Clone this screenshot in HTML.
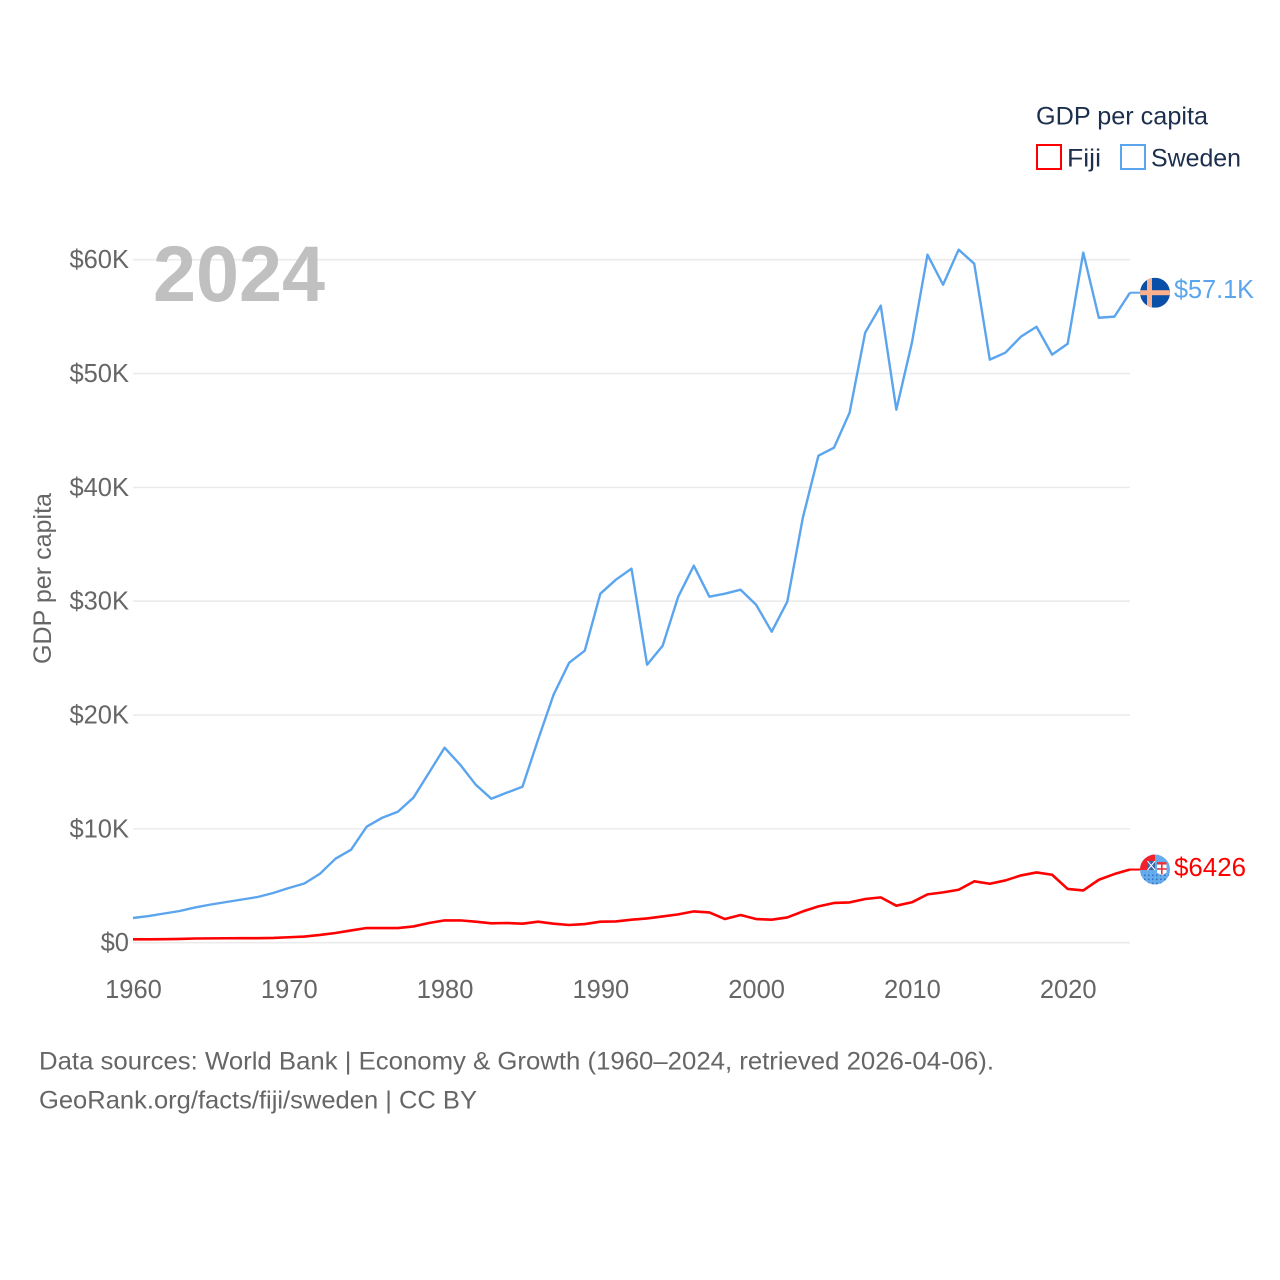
<!DOCTYPE html>
<html lang="en">
<head>
<meta charset="utf-8">
<title>GDP per capita: Fiji and Sweden</title>
<style>
html,body{margin:0;padding:0;background:#fff;}
svg{display:block;}
text{font-family:"Liberation Sans",sans-serif;}
</style>
</head>
<body>
<svg id="chart" xmlns="http://www.w3.org/2000/svg" width="1280" height="1280" viewBox="0 0 1280 1280">
  <defs>
    <clipPath id="clip-se"><circle cx="0" cy="0" r="15"></circle></clipPath>
    <clipPath id="clip-fj"><circle cx="0" cy="0" r="15"></circle></clipPath>
    <pattern id="fj-dots" width="4" height="4" patternUnits="userSpaceOnUse">
      <rect x="1" y="1" width="1.6" height="1.6" fill="#2f74c4"></rect>
    </pattern>
  </defs>
  <rect x="0" y="0" width="1280" height="1280" fill="#ffffff"></rect>
  <g id="grid"></g>
  <g id="yticks"></g>
  <g id="xticks"></g>
  <text transform="translate(51,578.5) rotate(-90)" text-anchor="middle" font-size="25" fill="#666666" textLength="171" lengthAdjust="spacingAndGlyphs">GDP per capita</text>
  <text x="153" y="301" font-size="79" font-weight="bold" fill="#bdbdbd" fill-opacity="0.95" textLength="172" lengthAdjust="spacingAndGlyphs">2024</text>
  <g id="series"></g>
  <g id="flag-se">
    <g clip-path="url(#clip-se)">
      <rect x="-15" y="-15" width="30" height="30" fill="#0a4fa8"></rect>
      <rect x="-8" y="-15" width="5" height="30" fill="#fbb18c"></rect>
      <rect x="-15" y="-2.5" width="30" height="5" fill="#fbb18c"></rect>
    </g>
  </g>
  <g id="flag-fj">
    <g clip-path="url(#clip-fj)">
      <rect x="-15" y="-15" width="30" height="30" fill="#66acec"></rect>
      <rect x="-15" y="2.5" width="30" height="13" fill="url(#fj-dots)"></rect>
      <rect x="-15" y="-15" width="15" height="15.5" fill="#f2222a"></rect>
      <rect x="-7.5" y="-8.5" width="7.5" height="9" fill="#3a67ad"></rect>
      <path d="M-7.5,-8.5 L0,0.5 M0,-8.5 L-7.5,0.5" stroke="#ffffff" stroke-width="1.1" fill="none"></path>
      <rect x="2" y="-7.5" width="9.5" height="11" fill="#ffffff"></rect>
      <path d="M2,3 L11.5,3 L6.75,6 Z" fill="#ffffff"></path>
      <rect x="2" y="-7.5" width="9.5" height="2.5" fill="#e8323a"></rect>
      <rect x="6" y="-5" width="1.6" height="10" fill="#e8323a"></rect>
      <rect x="2" y="-1.4" width="9.5" height="1.6" fill="#e8323a"></rect>
    </g>
  </g>
  <g id="endlabels"></g>
  <g>
    <text x="1036" y="124.5" font-size="25" fill="#1c2f4d" textLength="172" lengthAdjust="spacingAndGlyphs">GDP per capita</text>
    <g>
      <rect x="1037" y="145" width="24" height="24" fill="#ffffff" stroke="#ff0000" stroke-width="2"></rect>
      <text x="1067" y="166.5" font-size="25" fill="#1c2f4d" textLength="34" lengthAdjust="spacingAndGlyphs">Fiji</text>
    </g>
    <g>
      <rect x="1121" y="145" width="24" height="24" fill="#ffffff" stroke="#5ba5ee" stroke-width="2"></rect>
      <text x="1151" y="166.5" font-size="25" fill="#1c2f4d" textLength="90" lengthAdjust="spacingAndGlyphs">Sweden</text>
    </g>
  </g>
  <text x="39" y="1069.5" font-size="25" fill="#666666" textLength="955" lengthAdjust="spacingAndGlyphs">Data sources: World Bank | Economy &amp; Growth (1960–2024, retrieved 2026-04-06).</text>
  <text x="39" y="1108.5" font-size="25" fill="#666666" textLength="438" lengthAdjust="spacingAndGlyphs">GeoRank.org/facts/fiji/sweden | CC BY</text>
</svg>
<script>
const years = [1960,1961,1962,1963,1964,1965,1966,1967,1968,1969,1970,1971,1972,1973,1974,1975,1976,1977,1978,1979,1980,1981,1982,1983,1984,1985,1986,1987,1988,1989,1990,1991,1992,1993,1994,1995,1996,1997,1998,1999,2000,2001,2002,2003,2004,2005,2006,2007,2008,2009,2010,2011,2012,2013,2014,2015,2016,2017,2018,2019,2020,2021,2022,2023,2024];
const swedenValues = [2170,2345,2565,2785,3100,3356,3575,3795,4015,4366,4805,5200,6060,7380,8170,10190,10980,11500,12740,14930,17130,15640,13880,12650,13180,13700,17830,21790,24600,25650,30660,31890,32860,24420,26090,30400,33120,30400,30660,31010,29690,27320,29960,37340,42780,43490,46560,53590,55960,46820,52710,60440,57800,60880,59650,51220,51830,53240,54110,51660,52620,60620,54900,55000,57100];
const fijiValues = [300,300,310,330,370,380,390,400,400,420,480,540,680,850,1080,1290,1290,1290,1430,1730,1960,1960,1845,1700,1730,1670,1845,1670,1555,1640,1845,1870,2020,2135,2310,2490,2750,2660,2080,2430,2080,2020,2220,2750,3190,3490,3540,3840,3980,3250,3550,4245,4420,4650,5390,5180,5470,5910,6170,5970,4720,4590,5530,6030,6426];
const yTickValues = [0,10000,20000,30000,40000,50000,60000];
const yTickLabels = ["$0","$10K","$20K","$30K","$40K","$50K","$60K"];
const xTickValues = [1960,1970,1980,1990,2000,2010,2020];
const xTickLabels = ["1960","1970","1980","1990","2000","2010","2020"];
const endLabelSweden = "$57.1K";
const endLabelFiji = "$6426";

const SVG_NS = "http://www.w3.org/2000/svg";
const plotLeft = 133, plotRight = 1130, plotBottom = 942.7, plotTop = 259.7;
function xScale(year){ return plotLeft + (year - 1960) * (plotRight - plotLeft) / (2024 - 1960); }
function yScale(v){ return plotBottom - v * (plotBottom - plotTop) / 60000; }
function node(tag, parentId, props){
  const el = document.createElementNS(SVG_NS, tag);
  for (const k in props) el.setAttribute(k, props[k]);
  document.getElementById(parentId).appendChild(el);
  return el;
}

yTickValues.forEach(function(v, i){
  const line = node("line", "grid", {x1: plotLeft, x2: plotRight, y1: yScale(v), y2: yScale(v), stroke: "#ebebeb", "stroke-width": 1.6});
  
  
  const label = node("text", "yticks", {x: 129, y: yScale(v) + 8.5, "text-anchor": "end", "font-size": 25.5, fill: "#666666"});
  
  
  label.textContent = yTickLabels[i];
});

xTickValues.forEach(function(yr, i){
  const label = node("text", "xticks", {x: xScale(yr) + 0.5, y: 998, "text-anchor": "middle", "font-size": 25.5, fill: "#666666"});
  
  
  label.textContent = xTickLabels[i];
});

function linePath(vals){
  return vals.map(function(v, i){ return (i ? "L" : "M") + xScale(years[i]).toFixed(2) + "," + yScale(v).toFixed(2); }).join(" ");
}
const swedenLine = node("path", "series", {d: linePath(swedenValues), fill: "none", stroke: "#5ba5ee", "stroke-width": 2.4, "stroke-linejoin": "round"});


const fijiLine = node("path", "series", {d: linePath(fijiValues), fill: "none", stroke: "#ff0000", "stroke-width": 2.6, "stroke-linejoin": "round"});



const swedenEndY = yScale(swedenValues[swedenValues.length - 1]);
const fijiEndY = yScale(fijiValues[fijiValues.length - 1]);
const swedenConnector = node("line", "series", {x1: plotRight, x2: 1141, y1: swedenEndY, y2: swedenEndY, stroke: "#5ba5ee", "stroke-width": 2});


const fijiConnector = node("line", "series", {x1: plotRight, x2: 1141, y1: fijiEndY, y2: fijiEndY, stroke: "#ff0000", "stroke-width": 2});



document.getElementById("flag-se").setAttribute("transform", "translate(1155," + swedenEndY + ")");
document.getElementById("flag-fj").setAttribute("transform", "translate(1155," + fijiEndY + ")");

const swedenEndText = node("text", "endlabels", {x: 1174, y: swedenEndY + 5.5, "font-size": 25.5, fill: "#5ba5ee", textLength: 80, lengthAdjust: "spacingAndGlyphs"});


swedenEndText.textContent = endLabelSweden;
const fijiEndText = node("text", "endlabels", {x: 1174, y: fijiEndY + 6.5, "font-size": 25.5, fill: "#ff0000", textLength: 72, lengthAdjust: "spacingAndGlyphs"});


fijiEndText.textContent = endLabelFiji;
</script>
</body>
</html>
